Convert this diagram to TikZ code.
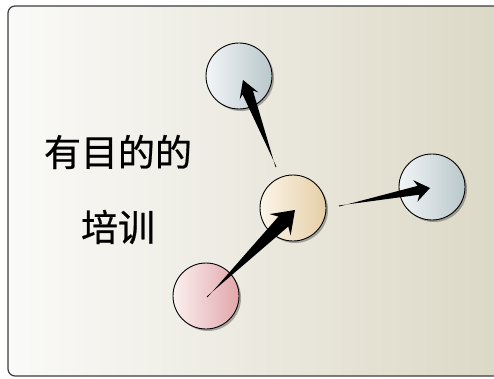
\documentclass[tikz,border=0pt]{standalone}
\usepackage{fontspec}
\newfontfamily\cjk[FakeBold=0.6]{Noto Sans CJK SC}
\usetikzlibrary{calc,shadows}
\definecolor{bgL}{HTML}{FAFAF8}
\definecolor{bgR}{HTML}{DCD8C6}
\definecolor{blueL}{HTML}{F2F5F7}
\definecolor{blueR}{HTML}{B9C7CB}
\definecolor{tanL}{HTML}{FCF5EA}
\definecolor{tanR}{HTML}{E5CEA6}
\definecolor{pinkL}{HTML}{FBF0F0}
\definecolor{pinkR}{HTML}{E2A6AA}
\definecolor{frameC}{HTML}{3C3C3C}
\tikzset{
  ball/.style={circle, draw=black, line width=0.9pt, minimum size=66pt, inner sep=0pt,
    drop shadow={shadow xshift=2pt, shadow yshift=-2pt, opacity=0.3, fill=black}},
  blueball/.style={ball, left color=blueL, right color=blueR},
  tanball/.style={ball, left color=tanL, right color=tanR},
  pinkball/.style={ball, left color=pinkL, right color=pinkR},
  label/.style={font=\cjk\fontsize{37}{40}\selectfont, inner sep=0pt, text=black}
}
\newcommand\taperarrow[5]{%
  \pgfmathsetmacro\tpA{veclen(#3,#4)}%
  \pgfmathsetmacro\tpB{atan(#4/#3)}%
  \pgfmathsetmacro\tpC{veclen(#3*0.78,#5)}%
  \pgfmathsetmacro\tpD{atan(#5/(#3*0.78))}%
  \fill[black] ($(#1)!0.5pt!90:(#2)$) -- ($(#2)!\tpC pt!\tpD:(#1)$) -- ($(#2)!\tpA pt!\tpB:(#1)$) -- (#2)
    -- ($(#2)!\tpA pt!-\tpB:(#1)$) -- ($(#2)!\tpC pt!-\tpD:(#1)$) -- ($(#1)!0.5pt!-90:(#2)$) -- cycle;}
\begin{document}
\begin{tikzpicture}[x=1pt,y=-1pt]
\useasboundingbox (0,0) rectangle (494,379);
\fill[white] (0,0) rectangle (494,379);
\draw[frameC, line width=1.2pt, rounded corners=7pt, left color=bgL, right color=bgR] (8,6) rectangle (506,376);
\node[label] (t1) at (118,152) {有目的的};
\node[label] (t2) at (118,227) {培训};
% balls
\node[blueball] (top) at (239,76) {};
\node[tanball] (mid) at (293,208) {};
\node[blueball] (nr) at (432,187) {};
\node[pinkball] (pink) at (206,296) {};
% arrow endpoints
\coordinate (a1s) at ($(mid)+(-17,-41)$);
\coordinate (a1e) at ($(top)+(4,4)$);
\coordinate (a2s) at ($(mid)+(46,-2)$);
\coordinate (a2e) at ($(nr)+(-2,1)$);
\coordinate (a3s) at ($(pink)+(1,1)$);
\coordinate (a3e) at ($(mid)+(2,2)$);
\taperarrow{a1s}{a1e}{17}{10}{5.5}
\taperarrow{a2s}{a2e}{15}{11}{4.5}
\taperarrow{a3s}{a3e}{21}{15}{7}
\end{tikzpicture}
\end{document}
